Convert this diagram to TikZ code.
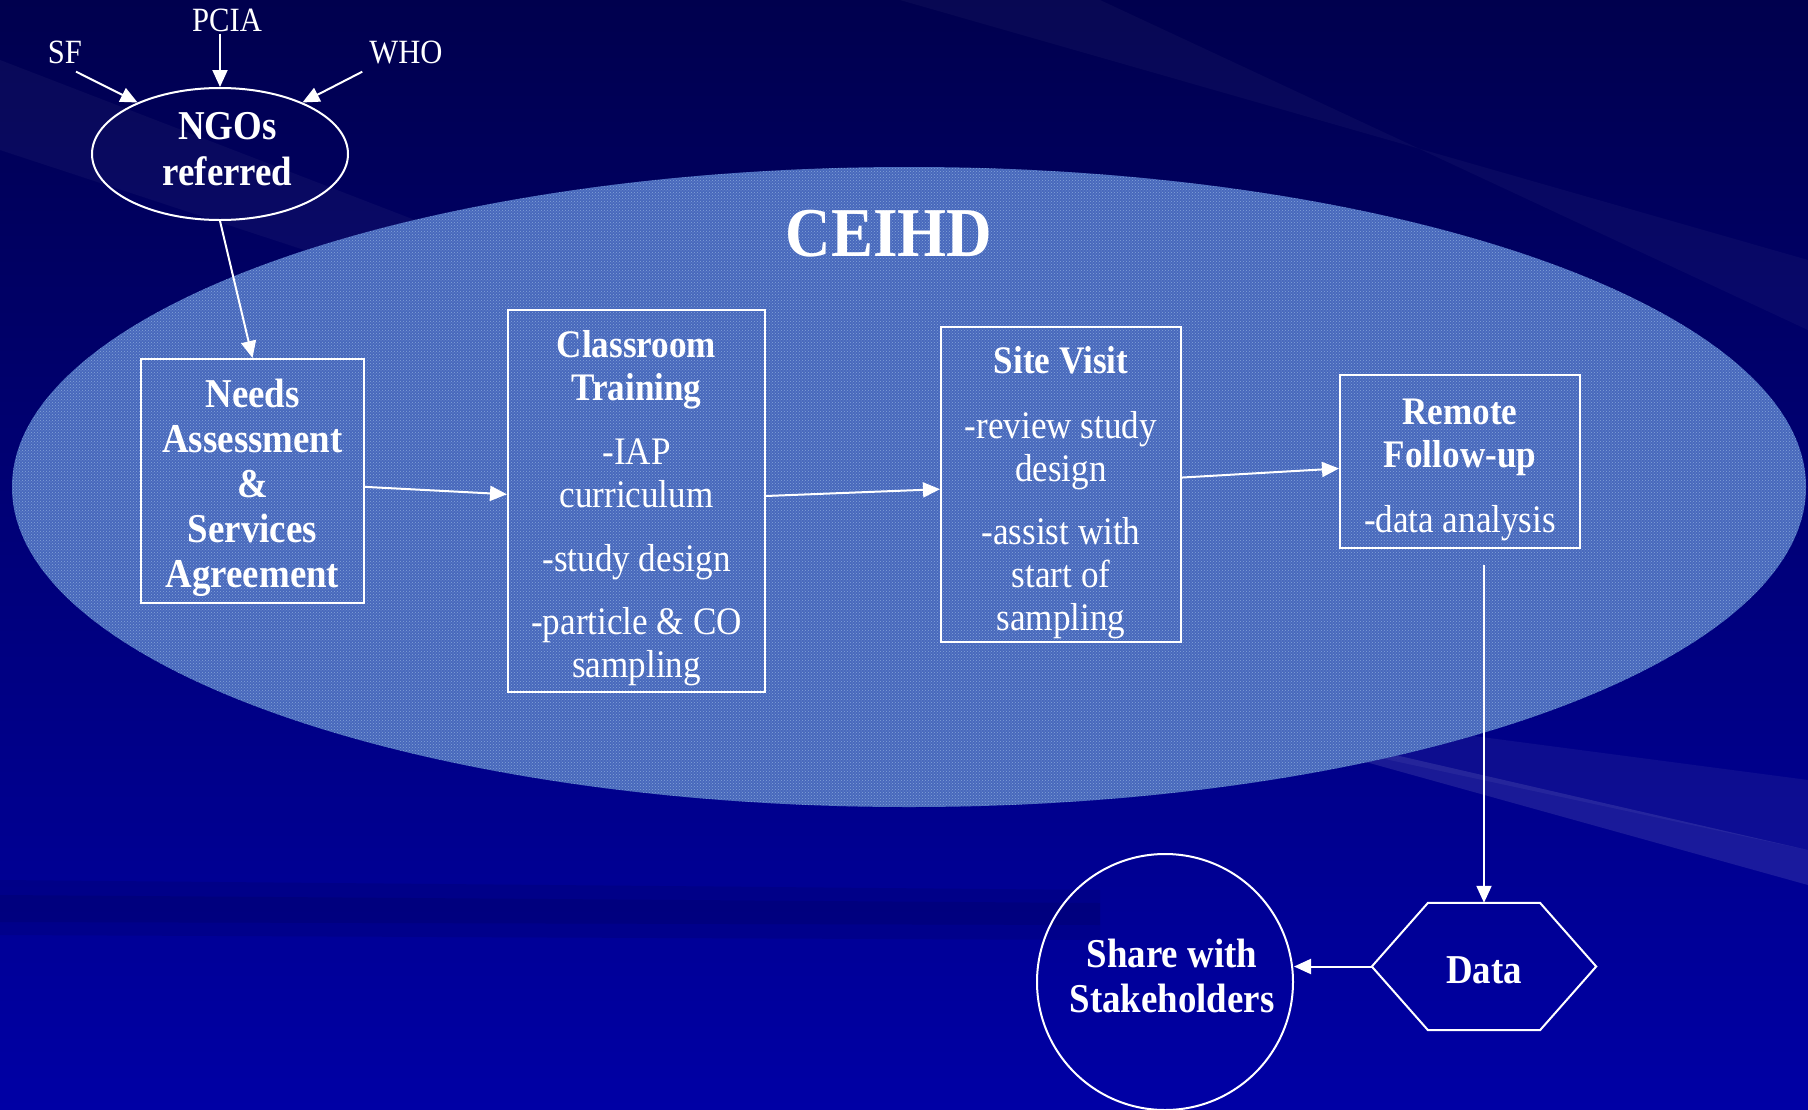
\documentclass[tikz,border=0pt]{standalone}
\usepackage{fontspec}
\setmainfont[FakeStretch=0.9]{Liberation Serif}
\usetikzlibrary{arrows.meta,calc,shapes.geometric,patterns}
\definecolor{bgtop}{RGB}{0,0,78}
\definecolor{bgbot}{RGB}{0,0,165}
\definecolor{cloud}{RGB}{72,104,188}
\definecolor{cloudlight}{RGB}{170,205,235}
\newcommand{\moved}[3]{\hspace*{#1}\raisebox{#2}[\height][\depth]{\begin{tabular}{@{}c@{}}#3\end{tabular}}}
\begin{document}
\begin{tikzpicture}[x=1pt,y=-1pt,
  lbl/.style={text=white, inner sep=2pt, font=\fontsize{34}{38}\selectfont},
  bx/.style={draw=white, line width=2pt, text=white, inner sep=0pt, align=center, font=\fontsize{39}{43}\selectfont},
  bxb/.style={bx, font=\bfseries\fontsize{41}{45}\selectfont},
  arr/.style={draw=white, line width=2pt, -{Triangle[length=17pt,width=15pt]}},
  outline/.style={draw=white, line width=2pt}
]
\useasboundingbox (0,0) rectangle (1808,1109);
% background
\shade[top color=bgtop, bottom color=bgbot] (0,0) rectangle (1808,1109);
\fill[white,opacity=0.035] (0,60) -- (700,330) -- (700,380) -- (0,150) -- cycle;
\fill[white,opacity=0.03] (900,0) -- (1808,260) -- (1808,330) -- (1100,0) -- cycle;
\fill[black,opacity=0.08] (0,880) -- (1100,890) -- (1100,940) -- (0,935) -- cycle;
\fill[black,opacity=0.08] (0,895) -- (1100,903) -- (1100,925) -- (0,922) -- cycle;
\fill[white,opacity=0.10] (1330,740) -- (1808,850) -- (1808,885) -- (1330,752) -- cycle;
\fill[white,opacity=0.05] (1200,700) -- (1808,780) -- (1808,850) -- (1250,730) -- cycle;
% big cloud ellipse
\fill[cloud] (909,487) ellipse [x radius=897pt, y radius=320pt];
\fill[pattern=crosshatch dots, pattern color=cloudlight, opacity=0.6] (909,487) ellipse [x radius=897pt, y radius=320pt];
\node[text=white, font=\bfseries\fontsize{70}{80}\selectfont] (title) at (889,234) {CEIHD};
% top sources
\node[lbl] (sf) at (65,52) {SF};
\node[lbl] (pcia) at (227,20) {PCIA};
\node[lbl] (who) at (406,52) {WHO};
\node[ellipse, outline, minimum width=256pt, minimum height=132pt, inner sep=0pt, text=white, font=\bfseries\fontsize{41}{46}\selectfont] (ngo) at (220,154) {\moved{15pt}{1pt}{NGOs\\referred}};
% process boxes
\node[bxb, minimum width=223pt, minimum height=244pt] (needs) at (252.5,481) {\moved{0pt}{-7pt}{Needs\\Assessment\\\&\\Services\\Agreement}};
\node[bx, minimum width=257pt, minimum height=382pt] (class) at (636.5,501) {\moved{0pt}{-8pt}{\textbf{Classroom}\\\textbf{Training}\\[21pt]-IAP\\curriculum\\[21pt]-study design\\[20pt]-particle \& CO\\sampling}};
\node[bx, minimum width=240pt, minimum height=315pt] (site) at (1061,484.5) {\moved{0pt}{-9pt}{\textbf{Site Visit}\\[22pt]-review study\\design\\[20pt]-assist with\\start of\\sampling}};
\node[bx, minimum width=240pt, minimum height=173pt] (remote) at (1460,461.5) {\moved{0pt}{-8pt}{\textbf{Remote}\\\textbf{Follow-up}\\[22pt]-data analysis}};
% bottom
\node[inner sep=0pt, minimum width=224pt, minimum height=127pt, text=white, font=\bfseries\fontsize{41}{45}\selectfont] (data) at (1484,966.5) {\moved{0pt}{-8pt}{Data}};
\draw[outline] (data.west) -- ($(data.north)+(-56,0)$) -- ($(data.north)+(56,0)$) -- (data.east) -- ($(data.south)+(56,0)$) -- ($(data.south)+(-56,0)$) -- cycle;
\node[circle, outline, minimum size=256pt, inner sep=0pt, text=white, font=\bfseries\fontsize{41}{45}\selectfont] (share) at (1165,982) {\moved{14pt}{1pt}{Share with\\Stakeholders}};
% connectors
\draw[arr] ($(sf.south)+(11,6)$) -- (ngo.148);
\draw[arr] (pcia.south -| ngo.north) -- (ngo.north);
\draw[arr] ($(who.south west)+(-5,6)$) -- (ngo.32);
\draw[arr] (ngo.south) -- (needs.north);
\draw[arr] (needs) -- (class);
\draw[arr] (class) -- (site);
\draw[arr] (site) -- (remote);
\coordinate (rfree) at (1484,565);
\draw[arr] (rfree) -- (data.north);
\draw[arr] (data.west) -- (data.west -| share.east);
\end{tikzpicture}
\end{document}
